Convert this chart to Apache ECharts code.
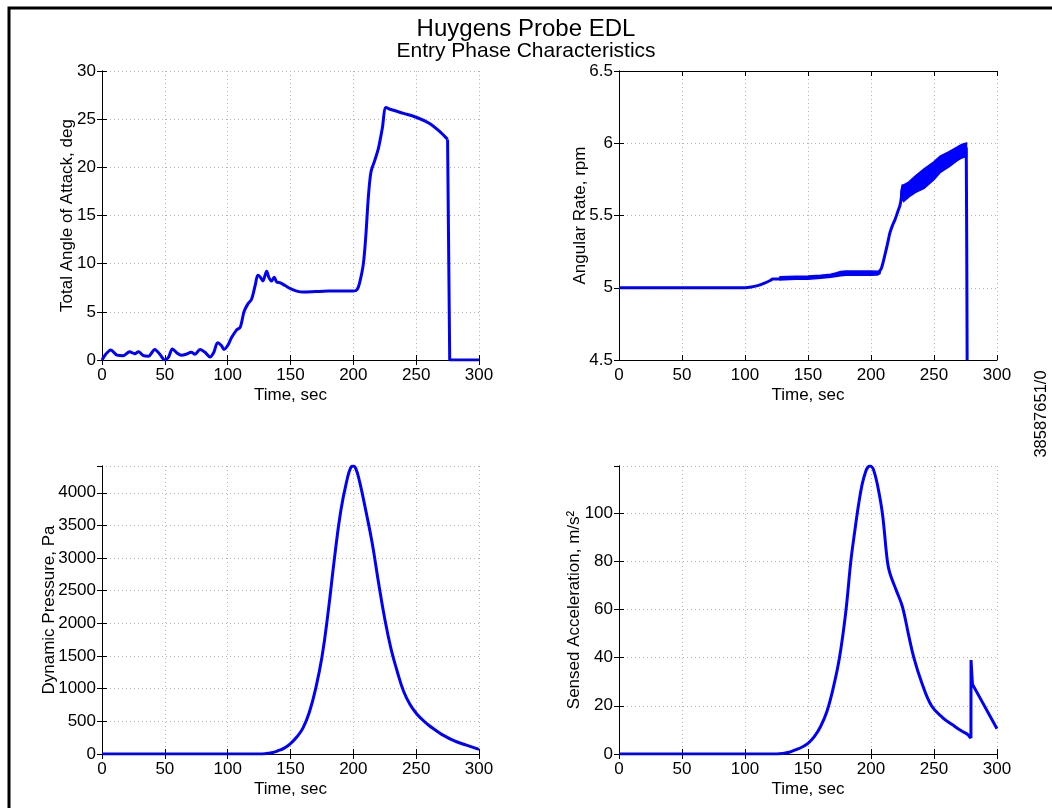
<!DOCTYPE html>
<html>
<head>
<meta charset="utf-8">
<script src="https://cdn.jsdelivr.net/npm/echarts@6/dist/echarts.min.js"></script>
<style>
html,body{margin:0;padding:0;background:#fff;}
#chart{width:1052px;height:808px;}
</style>
</head>
<body>
<div id="chart"></div>
<script>
// ---- Data ----
const timeTicks = [0, 50, 100, 150, 200, 250, 300];

const aoaTime = [0,3,7,12,17,22,26,29,33,37,42,46,50,53,56,60,63,67,71,74,78,82,86,89,92,95,97,100,103,107,110,113,116,119,122,124,126,128,131,133,135,137,139,142,146,150,155,160,170,180,190,200,203,205,208,210,212,214,217,220,223,226,230,240,250,260,268,275,276.2,276.7,300];
const aoaDeg  = [0,0.6,1.05,0.5,0.45,0.85,0.65,0.85,0.45,0.4,1.1,0.6,0.0,0.3,1.15,0.7,0.5,0.6,0.8,0.6,1.1,0.8,0.3,0.8,1.8,1.5,1.1,1.5,2.3,3.1,3.4,5.0,5.8,6.3,7.8,8.8,8.6,8.2,9.2,8.5,8.2,8.6,8.1,8.0,7.7,7.4,7.15,7.05,7.1,7.15,7.15,7.15,7.3,8.0,10,13,17,19.5,20.7,22,24,26.2,26.0,25.6,25.2,24.6,23.8,22.9,22.8,0,0];
const aoaDropTime = 275;   // start of the final drop (straight segments after it)

const rateTime = [0,100,105,110,115,120,122,125,130,135,140,150,160,165,170,175,180,190,200,205,208,210,213,215,217,219,221,223,224,225,226,228,230,235,240,245,250,255,260,265,270,273,275.6,276,276.3];
const rateRpm  = [5,5,5.005,5.015,5.03,5.05,5.06,5.06,5.065,5.07,5.065,5.07,5.075,5.08,5.085,5.095,5.1,5.1,5.1,5.1,5.13,5.19,5.3,5.38,5.43,5.47,5.52,5.57,5.62,5.7,5.64,5.67,5.68,5.71,5.75,5.79,5.82,5.85,5.88,5.91,5.93,5.95,5.97,5.25,4.5];
const rateDropTime = 275.6;
// oscillation envelopes of the angular rate (two noisy stretches)
const rateBand1Time = [128,140,150,160,168,172,176,180,190,200,205,207];
const rateBand1Low  = [5.055,5.06,5.06,5.068,5.075,5.08,5.085,5.088,5.088,5.088,5.09,5.1];
const rateBand1High = [5.075,5.078,5.08,5.085,5.092,5.1,5.11,5.115,5.115,5.115,5.112,5.115];
const rateBand2Time = [224,225,226,230,235,242,250,255,262,268,272,275.6];
const rateBand2Low  = [5.6,5.62,5.6,5.63,5.66,5.69,5.75,5.8,5.84,5.88,5.9,5.91];
const rateBand2High = [5.66,5.71,5.71,5.73,5.77,5.82,5.87,5.91,5.94,5.97,5.99,6.0];

const qTime = [0,125,130,135,140,145,150,155,160,165,170,175,180,185,190,195,198,200,202,205,210,215,220,225,230,235,240,245,250,255,260,265,270,280,290,300];
const qPa   = [0,0,5,20,50,90,160,260,400,640,1000,1480,2180,3000,3720,4200,4390,4410,4370,4170,3720,3230,2630,2070,1610,1260,960,760,625,525,440,370,305,205,135,71];

const accTime = [0,125,130,135,140,145,150,155,160,165,170,175,180,184,187,190,193,196,197.5,199,200.5,202,205,209,213,215,220,225,230,234,240,248,257,265,272,277,278.5,279.3,279.4,280.5,300];
const accMs2  = [0,0,0.2,0.7,1.7,2.8,4.4,7.2,11.4,17.6,27.3,40,59,80,92,103,112,117.5,119,119.5,119.2,118,112,100,80,75,68,61,49,40,30,20,15,12,9.5,8,7,6.5,39,29,10.5];
const accSpikeTime = 279.3; // the jump (sensor event) begins here

// ---- helpers ----
const zip = (t, v) => t.map((x, i) => [x, v[i]]);
const before = (t, v, t0) => zip(t, v).filter(p => p[0] <= t0);
const after  = (t, v, t0) => zip(t, v).filter(p => p[0] >= t0);
const FONT = '"Liberation Sans", Arial, Helvetica, sans-serif';
const BLUE = '#0000ff';

const grids = [
  {left: 102, top: 71, width: 377, height: 289},
  {left: 619, top: 71, width: 378, height: 289},
  {left: 102, top: 466, width: 377, height: 288},
  {left: 619, top: 466, width: 378, height: 288}
];
const yRanges = [
  {min: 0, max: 30, interval: 5, name: 'Total Angle of Attack, deg', gap: 26},
  {min: 4.5, max: 6.5, interval: 0.5, name: 'Angular Rate, rpm', gap: 30.5},
  {min: 0, max: 4410, interval: 500, name: 'Dynamic Pressure, Pa', gap: 44, hideMax: true},
  {min: 0, max: 119.5, interval: 20, name: 'Sensed Acceleration, m/s\u00B2', gap: 36, hideMax: true}
];

const tick = {show: true, inside: true, length: 5, lineStyle: {color: '#000', width: 1}};
const split = {show: true, lineStyle: {color: '#b4b4b4', type: [1, 3], width: 1}};
const labelStyle = {color: '#000', fontSize: 17, fontFamily: FONT, formatter: v => String(v)};

const xAxes = [], yAxes = [];
grids.forEach((g, i) => {
  xAxes.push({
    type: 'value', gridIndex: i, position: 'bottom',
    min: timeTicks[0], max: timeTicks[timeTicks.length - 1], interval: timeTicks[1] - timeTicks[0],
    name: 'Time, sec', nameLocation: 'middle', nameGap: 27, nameMoveOverlap: false,
    nameTextStyle: {color: '#000', fontSize: 17, fontFamily: FONT},
    axisLine: {show: true, lineStyle: {color: '#000', width: 1}},
    axisTick: tick, splitLine: split,
    axisLabel: Object.assign({margin: 7}, labelStyle)
  });
  const r = yRanges[i];
  yAxes.push({
    type: 'value', gridIndex: i, position: 'left',
    min: r.min, max: r.max, interval: r.interval,
    name: r.name, nameLocation: 'middle', nameGap: r.gap, nameRotate: 90, nameMoveOverlap: false,
    nameTextStyle: {color: '#000', fontSize: 17, fontFamily: FONT},
    axisLine: {show: true, lineStyle: {color: '#000', width: 1}},
    axisTick: tick, splitLine: split,
    axisLabel: Object.assign({margin: 6, showMaxLabel: !r.hideMax}, labelStyle)
  });
});
// mirrored axes (top / right) for the inward ticks of the box
grids.forEach((g, i) => {
  xAxes.push({
    type: 'value', gridIndex: i, position: 'top',
    min: timeTicks[0], max: timeTicks[timeTicks.length - 1], interval: timeTicks[1] - timeTicks[0],
    axisLine: {show: true, lineStyle: {color: '#000', width: 1}},
    axisTick: tick, splitLine: {show: false}, axisLabel: {show: false}
  });
  const r = yRanges[i];
  yAxes.push({
    type: 'value', gridIndex: i, position: 'right',
    min: r.min, max: r.max, interval: r.interval,
    axisLine: {show: true, lineStyle: {color: '#000', width: 1}},
    axisTick: tick, splitLine: {show: false}, axisLabel: {show: false}
  });
});

const lineBase = {type: 'line', showSymbol: false, symbol: 'none', lineStyle: {color: BLUE, width: 3}, itemStyle: {color: BLUE}, animation: false, silent: true};
const line = (xi, data, smooth) => Object.assign({}, lineBase, {xAxisIndex: xi, yAxisIndex: xi, data: data, smooth: smooth});

const bands = [
  {t: rateBand1Time, lo: rateBand1Low, hi: rateBand1High},
  {t: rateBand2Time, lo: rateBand2Low, hi: rateBand2High}
];

const series = [
  line(0, before(aoaTime, aoaDeg, aoaDropTime), 0.3),
  line(0, after(aoaTime, aoaDeg, aoaDropTime), false),
  line(1, before(rateTime, rateRpm, rateDropTime), 0.2),
  line(1, after(rateTime, rateRpm, rateDropTime), false),
  {
    type: 'custom', xAxisIndex: 1, yAxisIndex: 1, silent: true, animation: false,
    data: bands.map(b => [b.t[0], b.lo[0]]),
    renderItem: (params, api) => {
      const b = bands[params.dataIndex];
      const upper = b.t.map((t, i) => api.coord([t, b.hi[i]]));
      const lower = b.t.map((t, i) => api.coord([t, b.lo[i]])).reverse();
      return {type: 'polygon', shape: {points: upper.concat(lower)},
              style: {fill: BLUE, stroke: BLUE, lineWidth: 2}};
    }
  },
  line(2, zip(qTime, qPa), 0.45),
  line(3, before(accTime, accMs2, accSpikeTime), 0.4),
  line(3, after(accTime, accMs2, accSpikeTime), false)
];

const chart = echarts.init(document.getElementById('chart'), null, {renderer: 'canvas'});
chart.setOption({
  backgroundColor: '#fff',
  animation: false,
  title: {
    text: 'Huygens Probe EDL', subtext: 'Entry Phase Characteristics',
    left: 'center', top: 12, itemGap: 0,
    textStyle: {color: '#000', fontSize: 24, fontWeight: 'normal', fontFamily: FONT},
    subtextStyle: {color: '#000', fontSize: 21, fontFamily: FONT}
  },
  grid: grids.map(g => Object.assign({show: false, containLabel: false}, g)),
  xAxis: xAxes,
  yAxis: yAxes,
  series: series,
  graphic: [
    {type: 'polyline', silent: true, shape: {points: [[9, 808], [9, 8], [1052, 8]]},
     style: {stroke: '#000', lineWidth: 3, fill: null}},
    {type: 'text', silent: true, x: 1041, y: 414, rotation: Math.PI / 2,
     style: {text: '38587651/0', fontSize: 16.5, fontFamily: FONT, fill: '#000', align: 'center', verticalAlign: 'middle'}}
  ]
});
</script>
</body>
</html>
